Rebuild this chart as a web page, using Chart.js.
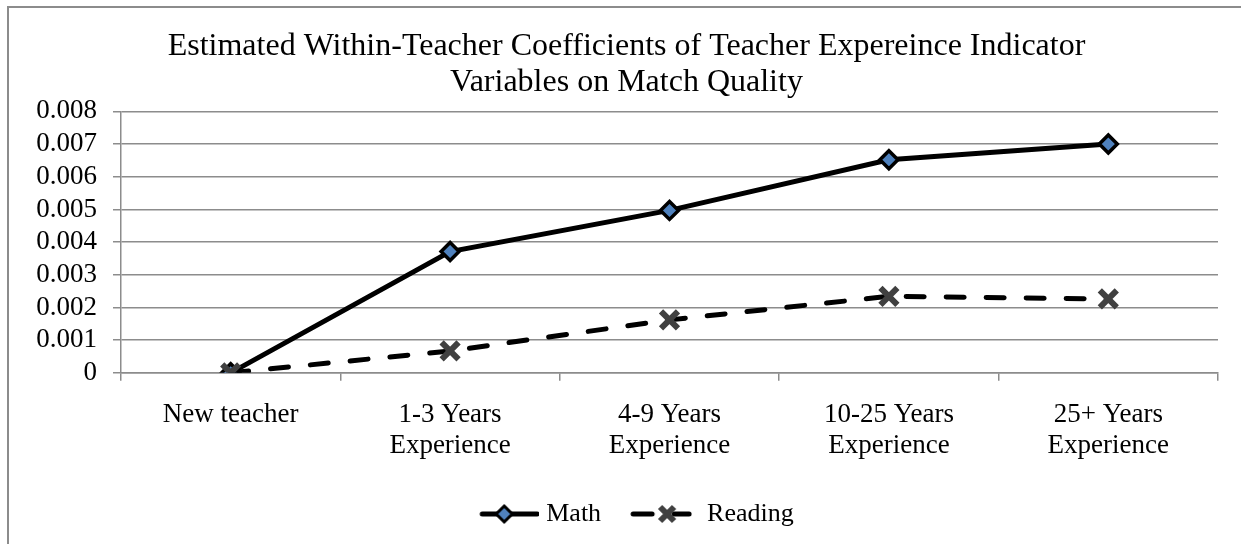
<!DOCTYPE html>
<html>
<head>
<meta charset="utf-8">
<script src="https://cdn.jsdelivr.net/npm/chart.js@4"></script>
<style>
  body { margin: 0; background: #fff; overflow: hidden; }
  #frame { position: absolute; left: 7px; top: 6px; width: 1300px; height: 600px; border: 2px solid #8c8c8c; }
  #mychart { position: absolute; left: 0; top: 0; }
</style>
</head>
<body>
<div id="frame"></div>
<canvas id="mychart" width="1241" height="544"></canvas>
<script>
// chart data
const categories = [
    "New teacher",
    ["1-3 Years", "Experience"],
    ["4-9 Years", "Experience"],
    ["10-25 Years", "Experience"],
    ["25+ Years", "Experience"]
];
const mathValues = [0, 0.00371, 0.00497, 0.00652, 0.00700];
const readingValues = [0, 0.00067, 0.00162, 0.00234, 0.00226];
const yTicks = [0, 0.001, 0.002, 0.003, 0.004, 0.005, 0.006, 0.007, 0.008];
const chartTitle = ["Estimated Within-Teacher Coefficients of Teacher Expereince Indicator", "Variables on Match Quality"];

const serif = "'Liberation Serif', 'Times New Roman', serif";
const gridGrey = "#8c8c8c";

// little line+marker pictures for the legend
// (canvas is wider than the drawing so the symbol lands where the original has it)
function mathIcon() {
    let c = document.createElement("canvas");
    c.width = 84; c.height = 26;
    let ctx = c.getContext("2d");
    let o = 24;
    ctx.strokeStyle = "#000";
    ctx.lineWidth = 5;
    ctx.lineCap = "round";
    ctx.beginPath(); ctx.moveTo(o + 3, 13); ctx.lineTo(o + 58, 13); ctx.stroke();
    ctx.beginPath();
    ctx.moveTo(o + 25, 5); ctx.lineTo(o + 33, 13); ctx.lineTo(o + 25, 21); ctx.lineTo(o + 17, 13); ctx.closePath();
    ctx.fillStyle = "#4F81BD";
    ctx.fill();
    ctx.lineWidth = 3;
    ctx.stroke();
    return c;
}

function readingIcon() {
    let c = document.createElement("canvas");
    c.width = 68; c.height = 26;
    let ctx = c.getContext("2d");
    let o = 6;
    ctx.strokeStyle = "#000";
    ctx.lineWidth = 5;
    ctx.lineCap = "round";
    ctx.beginPath(); ctx.moveTo(o + 3, 13); ctx.lineTo(o + 22, 13); ctx.stroke();
    ctx.beginPath(); ctx.moveTo(o + 44, 13); ctx.lineTo(o + 59, 13); ctx.stroke();
    ctx.strokeStyle = "#404040";
    ctx.lineWidth = 6;
    ctx.lineCap = "butt";
    ctx.beginPath();
    ctx.moveTo(o + 30, 6); ctx.lineTo(o + 44, 20);
    ctx.moveTo(o + 44, 6); ctx.lineTo(o + 30, 20);
    ctx.stroke();
    return c;
}

const legendIcons = [mathIcon(), readingIcon()];

// the legend in the picture sits a hair right of the title's centre
const legendNudge = {
    id: "legendNudge",
    afterLayout(chart) {
        chart.legend.left += 1;
        chart.legend.right += 1;
    }
};

new Chart("mychart", {
    type: "line",
    data: {
        labels: categories,
        datasets: [{
            label: "Math",
            data: mathValues,
            borderColor: "#000",
            borderWidth: 5,
            pointStyle: "rectRot",
            pointRadius: 9,
            pointHoverRadius: 9,
            pointBackgroundColor: "#4F81BD",
            pointBorderColor: "#000",
            pointBorderWidth: 3.5,
            order: 1
        }, {
            label: "Reading",
            data: readingValues,
            borderColor: "#000",
            borderWidth: 5,
            borderDash: [18, 22],
            borderCapStyle: "round",
            pointStyle: "crossRot",
            pointRadius: 12,
            pointHoverRadius: 12,
            pointBorderColor: "#404040",
            pointBorderWidth: 6,
            order: 0
        }]
    },
    options: {
        responsive: false,
        animation: false,
        devicePixelRatio: 1,
        layout: { padding: { left: 35, right: 23, top: 0, bottom: 7 } },
        plugins: {
            title: {
                display: true,
                text: chartTitle,
                color: "#000",
                font: { family: serif, size: 32, weight: "normal", lineHeight: 1.115 },
                padding: { top: 29, bottom: 11 }
            },
            legend: {
                position: "bottom",
                labels: {
                    usePointStyle: true,
                    pointStyleWidth: 72,
                    padding: 21,
                    color: "#000",
                    font: { family: serif, size: 26 },
                    generateLabels: chart => chart.data.datasets.map((ds, i) => ({
                        text: ds.label,
                        pointStyle: legendIcons[i],
                        datasetIndex: i,
                        fontColor: "#000",
                        lineWidth: 0,
                        strokeStyle: "transparent",
                        fillStyle: "transparent",
                        hidden: false
                    }))
                }
            },
            tooltip: { enabled: false }
        },
        scales: {
            x: {
                offset: true,
                grid: { drawOnChartArea: false, drawTicks: true, tickLength: 8, color: gridGrey, lineWidth: 1.5, offset: true },
                border: { color: gridGrey, width: 1.5 },
                ticks: { color: "#000", padding: 18, maxRotation: 0, font: { family: serif, size: 27, lineHeight: 1.17 } }
            },
            y: {
                min: 0,
                max: 0.008,
                afterFit: scale => { scale.width = 86; },
                afterBuildTicks: scale => { scale.ticks = yTicks.map(v => ({ value: v })); },
                grid: { color: gridGrey, lineWidth: 1.5, tickLength: 8 },
                border: { color: gridGrey, width: 1.5 },
                ticks: {
                    color: "#000",
                    padding: 16,
                    autoSkip: false,
                    font: { family: serif, size: 27 },
                    callback: v => v === 0 ? "0" : v.toFixed(3)
                }
            }
        }
    },
    plugins: [legendNudge]
});
</script>
</body>
</html>
